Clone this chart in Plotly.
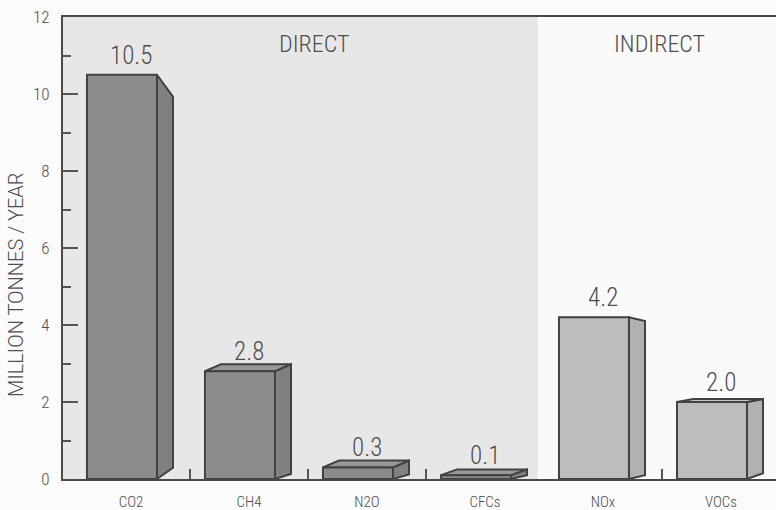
import plotly.graph_objects as go

# Emissions by gas (million tonnes per year)
categories = ["CO2", "CH4", "N2O", "CFCs", "NOx", "VOCs"]
values = [10.5, 2.8, 0.3, 0.1, 4.2, 2.0]
groups = ["DIRECT", "DIRECT", "DIRECT", "DIRECT", "INDIRECT", "INDIRECT"]
y_ticks = [0, 2, 4, 6, 8, 10, 12]
y_title = "MILLION TONNES / YEAR"

# Box drawing style: front face span relative to category centre, side depth,
# and per-bar tilt of the side face (top, bottom) in axis units
FRONT_L, FRONT_R = -0.373, 0.22
DEPTH = 0.136
SIDE_TILT = [(-0.57, 0.29), (0.18, 0.13), (0.18, 0.12), (0.15, 0.10),
             (-0.10, 0.10), (0.08, 0.15)]
COLORS = {
    "DIRECT": {"front": "#8c8c8c", "side": "#808080", "top": "#989898"},
    "INDIRECT": {"front": "#bdbdbd", "side": "#b1b1b1", "top": "#c7c7c7"},
}
EDGE = "#424242"
COND = "Roboto Condensed, Liberation Sans Narrow, Arial Narrow, sans-serif"
PLAIN = "Roboto, Liberation Sans, sans-serif"
TXT = "#4e4e4e"

fig = go.Figure()


def poly(xs, ys, fill):
    fig.add_trace(go.Scatter(
        x=xs + [xs[0]], y=ys + [ys[0]], mode="lines", fill="toself",
        fillcolor=fill, line=dict(color=EDGE, width=2),
        hoverinfo="skip", showlegend=False))


for i, (cat, v, g) in enumerate(zip(categories, values, groups)):
    c = i
    rt, rb = SIDE_TILT[i]
    col = COLORS[g]
    xl, xr = c + FRONT_L, c + FRONT_R
    xb = xr + DEPTH
    # side face
    poly([xr, xb, xb, xr], [0, rb, v + rt, v], col["side"])
    # top face (only when the box recedes upwards)
    if rt > 0:
        poly([xl, xl + DEPTH, xb, xr], [v, v + rt, v + rt, v], col["top"])
    # front face
    poly([xl, xr, xr, xl], [0, 0, v, v], col["front"])
    fig.add_annotation(
        x=c, y=v, text=f"{v:.1f}", showarrow=False,
        yanchor="bottom", yshift=3,
        font=dict(family=COND, size=25, color=TXT, weight=300))

# group headings
fig.add_annotation(x=1.55, y=11.3, text="DIRECT", showarrow=False,
                   font=dict(family=COND, size=24, color=TXT, weight=300))
fig.add_annotation(x=4.48, y=11.3, text="INDIRECT", showarrow=False,
                   font=dict(family=COND, size=24, color=TXT, weight=300))

# y-axis title
fig.add_annotation(xref="paper", yref="paper", x=-0.066, y=0.42,
                   text=y_title, textangle=-90, showarrow=False,
                   xanchor="center", yanchor="middle",
                   font=dict(family=PLAIN, size=20, color=TXT, weight=300))

# shaded band behind the DIRECT gases
fig.add_shape(type="rect", xref="x", yref="y", x0=-0.6, x1=3.45, y0=0, y1=12,
              fillcolor="#e7e7e7", line_width=0, layer="below")

fig.update_layout(
    width=776, height=510,
    margin=dict(l=63, r=0, t=17, b=31),
    paper_bgcolor="#fbfbfb", plot_bgcolor="#fafafa",
    font=dict(family=COND, color=TXT),
    xaxis=dict(
        range=[-0.576, 5.466], tickmode="array",
        tickvals=list(range(len(categories))), ticktext=categories,
        ticks="", showgrid=False, zeroline=False,
        showline=True, mirror=True, linecolor="#4a4a4a", linewidth=2,
        ticklabelstandoff=8,
        tickfont=dict(family=COND, size=15, color=TXT, weight=300),
        minor=dict(tickmode="array", tickvals=[0.5, 1.5, 2.5, 4.5],
                   ticks="inside", ticklen=10, tickwidth=2, tickcolor="#555555"),
    ),
    yaxis=dict(
        range=[0, 12], tickmode="array", tickvals=y_ticks,
        ticks="inside", ticklen=15, tickwidth=2, tickcolor="#555555",
        showgrid=False, zeroline=False,
        showline=True, linecolor="#4a4a4a", linewidth=2,
        ticklabelstandoff=8,
        tickfont=dict(family=COND, size=17, color=TXT, weight=300),
        minor=dict(dtick=1, tick0=1, ticks="inside", ticklen=8, tickwidth=2,
                   tickcolor="#555555"),
    ),
)

fig.write_html("out.html")
